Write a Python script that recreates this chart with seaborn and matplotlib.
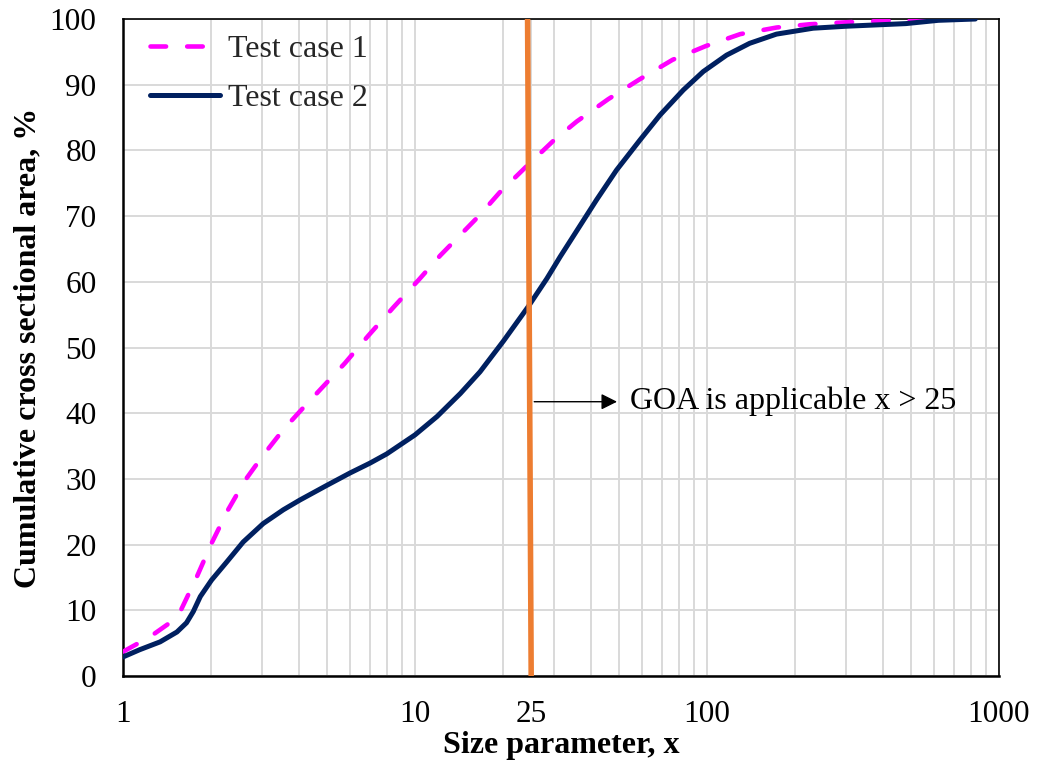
import matplotlib
matplotlib.use("Agg")
import matplotlib.pyplot as plt
import seaborn as sns
from matplotlib.ticker import FixedLocator, FixedFormatter, LogLocator, NullFormatter

# Cumulative cross sectional area vs. size parameter
size_case1 = [1, 1.24, 1.49, 1.57, 1.79, 2.01, 2.29, 2.62, 3.02, 3.54, 4.04, 4.67, 5.75,
              6.92, 8.43, 10.3, 12.2, 16.7, 19.5, 24, 30, 35.8, 45.9, 58.7, 76.3, 99.3,
              130, 173, 225, 300, 450, 830]
area_case1 = [3.7, 6.0, 8.5, 9.8, 15.1, 20.2, 25.3, 29.8, 33.6, 37.5, 40.3, 43.3, 47.6,
              51.8, 56.1, 60.3, 64.0, 70.2, 73.6, 77.5, 81.6, 84.4, 87.8, 90.8, 93.8,
              95.9, 97.7, 98.7, 99.2, 99.5, 99.8, 100]

size_case2 = [1, 1.14, 1.34, 1.53, 1.65, 1.74, 1.84, 2.01, 2.27, 2.58, 3.02, 3.54, 4.04,
              4.98, 5.99, 7.01, 8.0, 10.0, 11.9, 14.3, 16.7, 20.1, 24.4, 28.3, 31.4,
              41.9, 49.0, 59.0, 69.1, 83.0, 97.1, 116.7, 140, 173, 231, 300, 480, 620,
              830]
area_case2 = [2.9, 4.0, 5.2, 6.7, 8.1, 9.8, 12.1, 14.6, 17.4, 20.4, 23.2, 25.3, 26.8,
              29.0, 30.9, 32.4, 33.8, 36.7, 39.5, 43.0, 46.3, 51.0, 56.2, 60.5, 63.8,
              72.5, 77.0, 81.6, 85.4, 89.2, 92.0, 94.5, 96.3, 97.7, 98.6, 98.9, 99.3,
              99.8, 100]

# GOA validity limit
limit_x = [24.3, 25.0]
limit_y = [100, 0]

x_ticks = [1, 10, 25, 100, 1000]
x_tick_labels = ["1", "10", "25", "100", "1000"]
y_ticks = [0, 10, 20, 30, 40, 50, 60, 70, 80, 90, 100]

sns.set_theme(style="white")
plt.rcParams["font.family"] = ["Liberation Serif", "DejaVu Serif"]

fig = plt.figure(figsize=(10.38, 7.6), dpi=100)
ax = fig.add_axes([0.1185, 0.1105, 0.8439, 0.8645])

sns.lineplot(x=size_case1, y=area_case1, ax=ax, color="#FF00FF", lw=3.3,
             sort=False, estimator=None, legend=False, zorder=3)
sns.lineplot(x=size_case2, y=area_case2, ax=ax, color="#002060", lw=3.6,
             sort=False, estimator=None, legend=False, zorder=3)
sns.lineplot(x=limit_x, y=limit_y, ax=ax, color="#ED7D31", lw=4.0,
             sort=False, estimator=None, legend=False, zorder=4)

l1, l2 = ax.get_lines()[:2]
l1.set_dashes([3.4, 4.6])
l1.set_dash_capstyle("round")
l2.set_solid_capstyle("round")
l2.set_solid_joinstyle("round")
l1.set_label("Test case 1")
l2.set_label("Test case 2")

ax.set_xscale("log")
ax.set_xlim(1, 1000)
ax.set_ylim(0, 100)

ax.xaxis.set_major_locator(FixedLocator(x_ticks))
ax.xaxis.set_major_formatter(FixedFormatter(x_tick_labels))
ax.xaxis.set_minor_locator(LogLocator(base=10, subs=range(2, 10)))
ax.xaxis.set_minor_formatter(NullFormatter())
ax.set_yticks(y_ticks)

ax.tick_params(axis="x", which="major", direction="inout", length=14, width=1.4,
               labelsize=22.5, pad=10, color="black")
ax.tick_params(axis="x", which="minor", direction="in", length=7, width=1.2,
               color="black")
ax.tick_params(axis="y", which="major", direction="out", length=8, width=1.4,
               labelsize=22.5, pad=11, color="black")
ax.xaxis.get_major_ticks()[2].tick1line.set_visible(False)
for lab in ax.get_xticklabels() + ax.get_yticklabels():
    lab.set_color("black")

ax.set_axisbelow(True)
ax.grid(which="major", color="#d9d9d9", lw=1.4)
ax.grid(which="minor", axis="x", color="#d9d9d9", lw=1.4)

for side in ["left", "bottom"]:
    ax.spines[side].set_linewidth(1.8)
for side in ["top", "right"]:
    ax.spines[side].set_linewidth(1.2)
for sp in ax.spines.values():
    sp.set_color("black")

ax.set_xlabel("Size parameter, x", fontsize=23, fontweight="bold", labelpad=2,
              color="black")
ax.set_ylabel("Cumulative cross sectional area, %", fontsize=23, fontweight="bold",
              labelpad=5, color="black")

ax.annotate("", xy=(49.2, 41.75), xytext=(25.6, 41.75),
            arrowprops=dict(arrowstyle="-|>", color="black", lw=1.0,
                            mutation_scale=24, shrinkA=0, shrinkB=0))
ax.text(54.5, 41.75, "GOA is applicable x > 25", fontsize=23, va="center",
        ha="left", color="black")

ax.legend(handles=[l1, l2], loc="upper left", bbox_to_anchor=(0.0126, 1.0),
          frameon=False, fontsize=23, handlelength=2.2, handletextpad=0.25,
          labelspacing=0.6, borderaxespad=0.1)

fig.savefig("out.png", dpi=100)
